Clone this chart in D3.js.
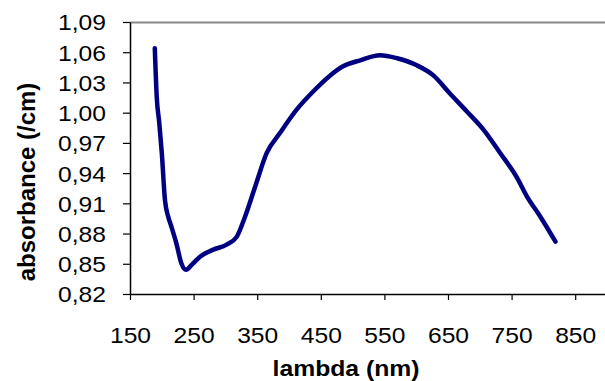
<!DOCTYPE html>
<html>
<head>
<meta charset="utf-8">
<script src="https://cdn.jsdelivr.net/npm/d3@7"></script>
<style>
  body { margin: 0; background: #fff; }
  text { font-family: "Liberation Sans", Arial, sans-serif; }
</style>
</head>
<body>
<div id="grafico"></div>
<script>
// wavelength (nm) and absorbance (/cm)
var lambda = [189, 192, 196, 200, 205, 210, 215, 223, 231, 238, 247, 260, 281, 302, 318,
  331, 347, 365, 386, 412, 438, 463, 485, 512, 543, 570, 601, 627, 653, 680, 706, 732, 758, 774, 795, 819];
var absorb = [1.064, 1.016, 0.99, 0.960, 0.913, 0.897, 0.887, 0.870, 0.850, 0.844, 0.849, 0.857, 0.864, 0.869, 0.877,
  0.897, 0.927, 0.960, 0.980, 1.003, 1.021, 1.036, 1.046, 1.052, 1.057, 1.054, 1.047, 1.037, 1.019, 1.001, 0.983, 0.960, 0.936, 0.917, 0.897, 0.872];

var xTicks = [150, 250, 350, 450, 550, 650, 750, 850];
var yTicks = [0.82, 0.85, 0.88, 0.91, 0.94, 0.97, 1.00, 1.03, 1.06, 1.09];

var dados = lambda.map(function(l, i) { return { l: l, a: absorb[i] }; });

var W = 605, H = 381;
var margin = { top: 22, left: 130, bottom: 294, right: 607 };
var stretch = 1.12; // the picture is a bit wider than tall

var x = d3.scaleLinear().domain([150, 900]).range([margin.left, margin.right]);
var y = d3.scaleLinear().domain([0.82, 1.09]).range([margin.bottom, margin.top]);

var svg = d3.select("#grafico").append("svg")
    .attr("width", W)
    .attr("height", H);

// plot area border (top is gray like excel)
svg.append("line")
    .attr("x1", margin.left).attr("x2", W)
    .attr("y1", margin.top + 0.5).attr("y2", margin.top + 0.5)
    .attr("stroke", "#888").attr("stroke-width", 2);

var fmt = function(d) { return d3.format(".2f")(d).replace(".", ","); };

// y axis
var gy = svg.append("g")
    .attr("transform", "translate(" + margin.left + ",0)")
    .call(d3.axisLeft(y).tickValues(yTicks).tickFormat(fmt).tickSize(7).tickSizeOuter(0));
gy.select(".domain").attr("stroke", "#000").attr("stroke-width", 1.5);
gy.selectAll(".tick line").attr("stroke", "#000").attr("stroke-width", 1.2);
gy.selectAll("text")
    .attr("font-size", 22).attr("fill", "#000")
    .attr("font-family", "Liberation Sans, Arial, sans-serif")
    .attr("x", -24 / stretch)
    .attr("dy", "0.36em")
    .attr("transform", "scale(" + stretch + ",1)");

// x axis
var gx = svg.append("g")
    .attr("transform", "translate(0," + margin.bottom + ")")
    .call(d3.axisBottom(x).tickValues(xTicks).tickFormat(d3.format("d")).tickSize(6).tickSizeOuter(0));
gx.select(".domain").attr("stroke", "#000").attr("stroke-width", 1.5);
gx.selectAll(".tick line").attr("stroke", "#000").attr("stroke-width", 1.2);
gx.selectAll("text")
    .attr("font-size", 22).attr("fill", "#000")
    .attr("font-family", "Liberation Sans, Arial, sans-serif")
    .attr("y", 49).attr("dy", null)
    .attr("transform", "scale(" + stretch + ",1)");

// the curve
var linha = d3.line()
    .x(function(d) { return x(d.l); })
    .y(function(d) { return y(d.a); })
    .curve(d3.curveMonotoneX);

svg.append("path")
    .datum(dados)
    .attr("fill", "none")
    .attr("stroke", "#000080")
    .attr("stroke-width", 4.5)
    .attr("stroke-linecap", "round")
    .attr("stroke-linejoin", "round")
    .attr("d", linha);

// titles
svg.append("text")
    .attr("transform", "translate(346,376) scale(1.15,1)")
    .attr("text-anchor", "middle")
    .attr("font-size", 21.5).attr("font-weight", "bold")
    .text("lambda (nm)");

svg.append("text")
    .attr("transform", "translate(35,182) rotate(-90)")
    .attr("text-anchor", "middle")
    .attr("font-size", 24).attr("font-weight", "bold")
    .text("absorbance (/cm)");
</script>
</body>
</html>
